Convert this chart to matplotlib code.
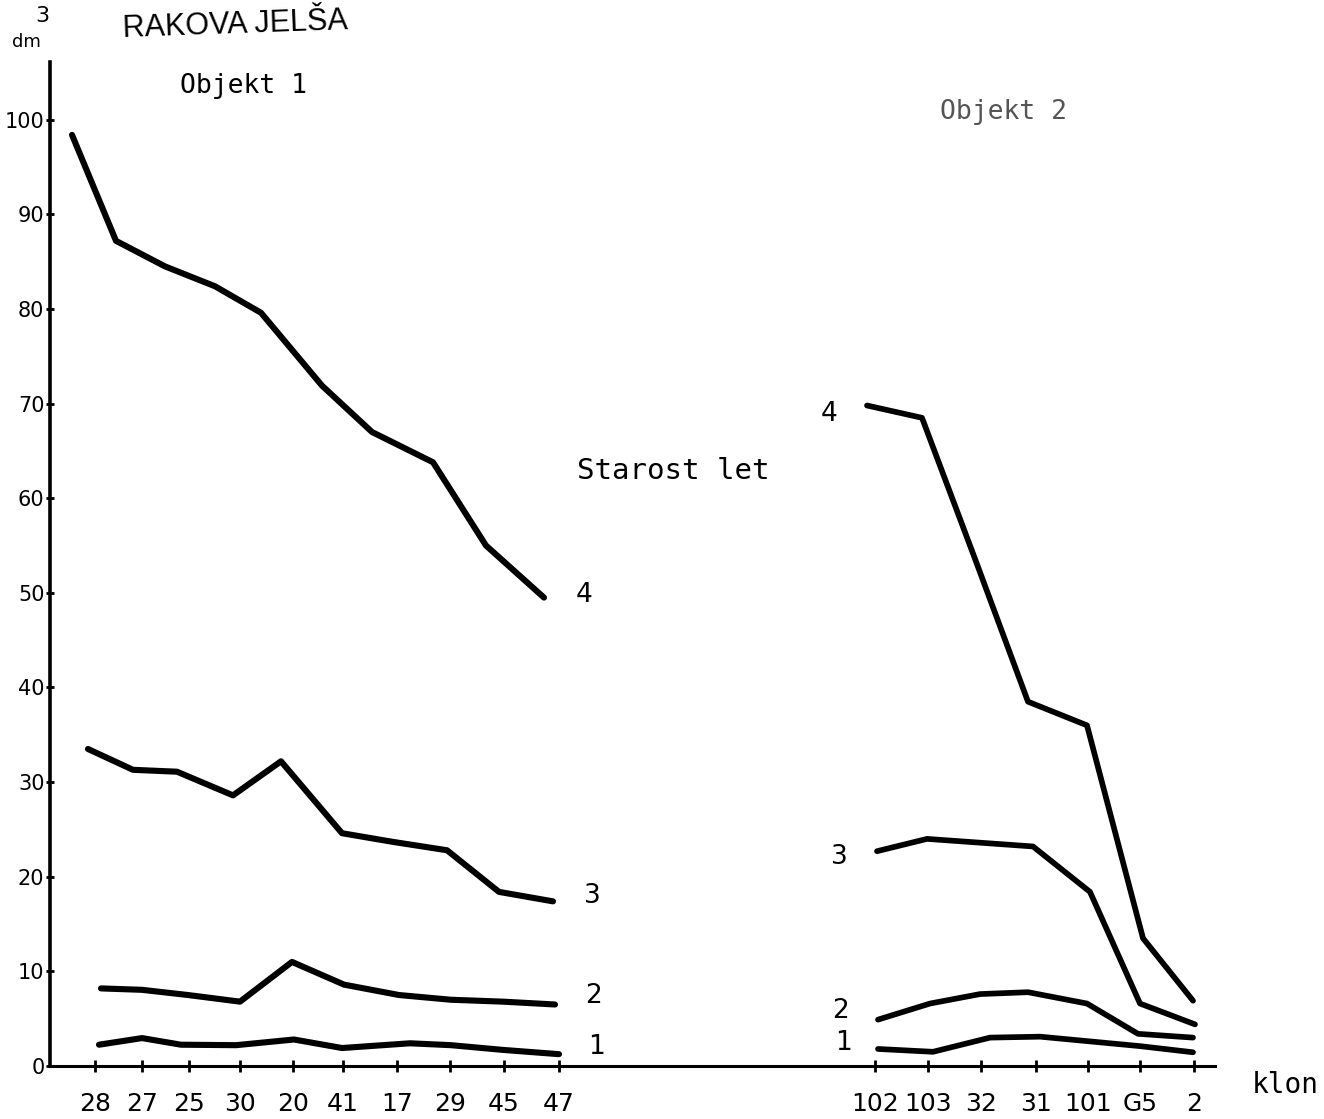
import matplotlib
matplotlib.use('Agg')
import matplotlib.pyplot as plt

# Objekt 1 - klony in njihova lega na osi
klony_1 = ['28', '27', '25', '30', '20', '41', '17', '29', '45', '47']
poz_1 = [95, 142, 189, 240, 293, 343, 397, 450, 504, 559]
# Objekt 2
klony_2 = ['102', '103', '32', '31', '101', 'G5', '2']
poz_2 = [875, 928, 981, 1036, 1088, 1140, 1194]

# prostornina (dm3) po starosti 4, 3, 2, 1 let - objekt 1
x1_4 = [72, 116, 165, 215, 261, 322, 372, 433, 486, 544]
y1_4 = [98.4, 87.2, 84.5, 82.4, 79.6, 71.9, 67.0, 63.8, 55.0, 49.5]
x1_3 = [88, 133, 177, 233, 281, 342, 392, 447, 499, 553]
y1_3 = [33.5, 31.3, 31.1, 28.6, 32.2, 24.6, 23.7, 22.8, 18.4, 17.4]
x1_2 = [101, 142, 188, 240, 292, 344, 399, 451, 503, 555]
y1_2 = [8.2, 8.05, 7.5, 6.8, 11.0, 8.6, 7.5, 7.0, 6.8, 6.5]
x1_1 = [99, 142, 181, 236, 294, 342, 410, 451, 503, 559]
y1_1 = [2.25, 2.95, 2.25, 2.2, 2.8, 1.9, 2.4, 2.2, 1.7, 1.25]

# objekt 2
x2_4 = [867, 922, 975, 1028, 1087, 1143, 1193]
y2_4 = [69.8, 68.5, 53.6, 38.5, 36.0, 13.5, 6.9]
x2_3 = [877, 927, 980, 1033, 1090, 1140, 1195]
y2_3 = [22.7, 24.0, 23.6, 23.2, 18.4, 6.6, 4.4]
x2_2 = [878, 930, 980, 1028, 1087, 1138, 1193]
y2_2 = [4.9, 6.6, 7.6, 7.8, 6.6, 3.4, 3.0]
x2_1 = [878, 933, 990, 1040, 1090, 1140, 1193]
y2_1 = [1.8, 1.5, 3.0, 3.1, 2.6, 2.1, 1.45]

plt.rcParams['font.family'] = ['Liberation Sans Narrow', 'DejaVu Sans']
MONO = ['DejaVu Sans Mono']

W, H = 1324, 1119
fig = plt.figure(figsize=(W / 100, H / 100), dpi=100)
ax = fig.add_axes([50 / W, (H - 1066) / H, (1215 - 50) / W, (1066 - 62) / H])
ax.set_xlim(50, 1215)
ax.set_ylim(0, 106.1)

obj1 = [(x1_4, y1_4, '4', (29, 2)), (x1_3, y1_3, '3', (28, 4)),
        (x1_2, y1_2, '2', (28, 6)), (x1_1, y1_1, '1', (27, 5))]
obj2 = [(x2_4, y2_4, '4', (-27, -6)), (x2_3, y2_3, '3', (-27, -4)),
        (x2_2, y2_2, '2', (-27, 6)), (x2_1, y2_1, '1', (-25, 4))]

for xs, ys, lab, off in obj1:
    ax.plot(xs, ys, color='black', lw=4.4, solid_capstyle='round', solid_joinstyle='round')
    ax.annotate(lab, xy=(xs[-1], ys[-1]), xytext=off, textcoords='offset points',
                ha='center', va='center', fontsize=19)
for xs, ys, lab, off in obj2:
    ax.plot(xs, ys, color='black', lw=4.1, solid_capstyle='round', solid_joinstyle='round')
    ax.annotate(lab, xy=(xs[0], ys[0]), xytext=off, textcoords='offset points',
                ha='center', va='center', fontsize=19)

ax.spines['top'].set_visible(False)
ax.spines['right'].set_visible(False)
ax.spines['left'].set_linewidth(2.6)
ax.spines['bottom'].set_linewidth(2.2)

ax.set_yticks(range(0, 101, 10))
ax.set_xticks(poz_1 + poz_2)
ax.set_xticklabels(klony_1 + klony_2)
ax.tick_params(axis='y', direction='inout', length=6, width=2, pad=1, labelsize=15)
ax.tick_params(axis='x', direction='inout', length=9, width=2, pad=14, labelsize=18)

fig.text(122 / W, 1 - 25 / H, 'RAKOVA JELŠA', fontsize=22, family='Liberation Sans',
         va='center', ha='left', rotation=2)
fig.text(12 / W, 1 - 42 / H, 'dm', fontsize=13, va='center', ha='left')
fig.text(35 / W, 1 - 16 / H, '3', fontsize=16, va='center', ha='left')
fig.text(180 / W, 1 - 86 / H, 'Objekt 1', fontsize=19, family=MONO, va='center', ha='left')
fig.text(940 / W, 1 - 112 / H, 'Objekt 2', fontsize=19, family=MONO, color='#555555',
         va='center', ha='left')
fig.text(577 / W, 1 - 471 / H, 'Starost let', fontsize=21, family=MONO, va='center', ha='left')
fig.text(1285 / W, 1 - 1085 / H, 'klon', fontsize=20, family=MONO, va='center', ha='center')

fig.savefig('out.png', dpi=100)
